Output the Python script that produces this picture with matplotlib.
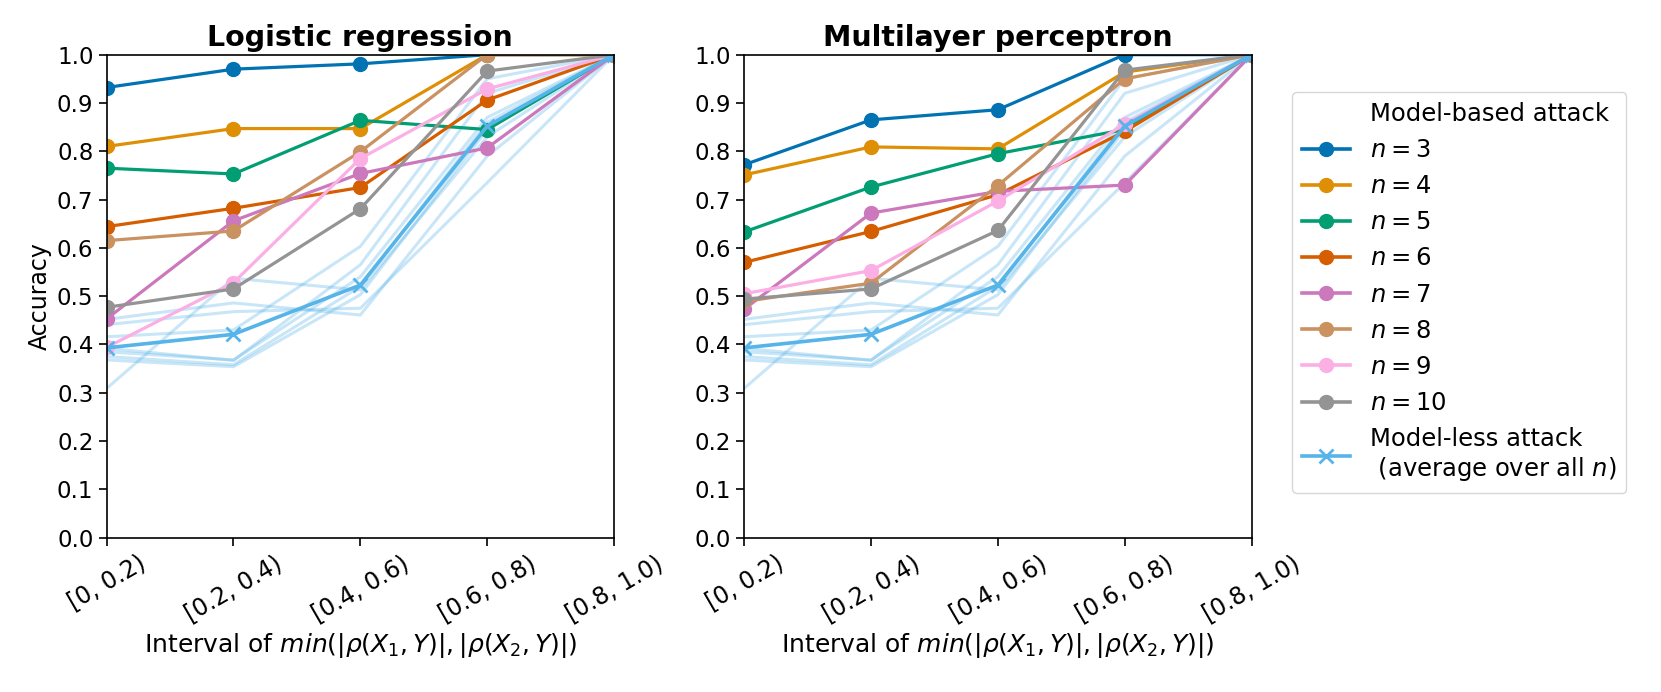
"""Attack accuracy per correlation interval: model-based vs model-less attack."""

import matplotlib.pyplot as plt
from matplotlib.lines import Line2D
import seaborn as sns

INTERVALS = ["[0, 0.2)", "[0.2, 0.4)", "[0.4, 0.6)", "[0.6, 0.8)", "[0.8, 1.0)"]
N_VALUES = [3, 4, 5, 6, 7, 8, 9, 10]

# model-based attack accuracy, one row per n
LOGREG_ACC = [
    [0.932, 0.970, 0.981, 1.000, 1.000],
    [0.810, 0.847, 0.847, 1.000, 1.000],
    [0.765, 0.753, 0.864, 0.845, 1.000],
    [0.644, 0.682, 0.725, 0.906, 1.000],
    [0.453, 0.656, 0.754, 0.807, 1.000],
    [0.615, 0.635, 0.799, 1.000, 1.000],
    [0.394, 0.528, 0.785, 0.929, 1.000],
    [0.477, 0.515, 0.681, 0.966, 1.000],
]
MLP_ACC = [
    [0.772, 0.865, 0.886, 1.000, 1.000],
    [0.751, 0.809, 0.805, 0.964, 1.000],
    [0.633, 0.726, 0.795, 0.845, 1.000],
    [0.570, 0.634, 0.710, 0.841, 1.000],
    [0.473, 0.672, 0.717, 0.730, 1.000],
    [0.489, 0.527, 0.729, 0.950, 1.000],
    [0.505, 0.553, 0.697, 0.856, 1.000],
    [0.494, 0.515, 0.636, 0.968, 1.000],
]

# model-less attack, one row per n (same for both models), and its average
MODELLESS_ACC = [
    [0.452, 0.486, 0.461, 0.790, 1.000],
    [0.441, 0.468, 0.475, 0.735, 1.000],
    [0.416, 0.430, 0.603, 0.950, 1.000],
    [0.392, 0.367, 0.565, 0.920, 1.000],
    [0.385, 0.368, 0.540, 0.870, 1.000],
    [0.375, 0.358, 0.520, 0.860, 1.000],
    [0.368, 0.354, 0.503, 0.845, 1.000],
    [0.309, 0.537, 0.513, 0.830, 1.000],
]
MODELLESS_AVG = [0.393, 0.421, 0.523, 0.852, 1.000]

palette = sns.color_palette("colorblind")
plt.rcParams["font.family"] = ["DejaVu Sans"]
plt.rcParams["mathtext.fontset"] = "dejavusans"

fig = plt.figure(figsize=(16.61, 6.92), dpi=100)
ax_lr = fig.add_axes([0.0642, 0.223, 0.3055, 0.698])
ax_mlp = fig.add_axes([0.448, 0.223, 0.3055, 0.698])

x = list(range(len(INTERVALS)))
light = palette[9]

for ax, acc, title in [
    (ax_lr, LOGREG_ACC, "Logistic regression"),
    (ax_mlp, MLP_ACC, "Multilayer perceptron"),
]:
    for row in MODELLESS_ACC:
        ax.plot(x, row, color=light, alpha=0.32, linewidth=2.2)
    for i, (n, row) in enumerate(zip(N_VALUES, acc)):
        ax.plot(x, row, color=palette[i], marker="o", markersize=10,
                linewidth=2.3, label=f"$n = {n}$")
    ax.plot(x, MODELLESS_AVG, color=light, marker="x", markersize=10,
            markeredgewidth=2, linewidth=2.6)

    ax.set_xlim(0, 4)
    ax.set_ylim(0, 1)
    ax.set_xticks(x)
    ax.set_xticklabels(INTERVALS, rotation=30, fontsize=17)
    ax.set_yticks([i / 10 for i in range(11)])
    ax.set_yticklabels([f"{i / 10:.1f}" for i in range(11)], fontsize=16.5)
    ax.tick_params(direction="out", length=6, width=1.2)
    for sp in ax.spines.values():
        sp.set_linewidth(1.2)
    ax.set_title(title, fontsize=20.5, fontweight="bold")
    ax.set_xlabel(r"Interval of $min(|\rho(X_1, Y)|, |\rho(X_2, Y)|)$", fontsize=18)

ax_lr.set_ylabel("Accuracy", fontsize=17)

handles = [Line2D([], [], linestyle="none")]
labels = ["Model-based attack"]
for i, n in enumerate(N_VALUES):
    handles.append(Line2D([], [], color=palette[i], marker="o", markersize=10, linewidth=2.6))
    labels.append(f"$n = {n}$")
handles.append(Line2D([], [], color=light, marker="x", markersize=10,
                      markeredgewidth=2, linewidth=2.6))
labels.append("Model-less attack\n (average over all $n$)")

fig.legend(handles, labels, loc="upper left",
           bbox_to_anchor=(1280 / 1661, 1 - 80 / 692), fontsize=17.5,
           handlelength=2.0, labelspacing=0.5, borderpad=0.4)

plt.savefig("out.png", dpi=100)
